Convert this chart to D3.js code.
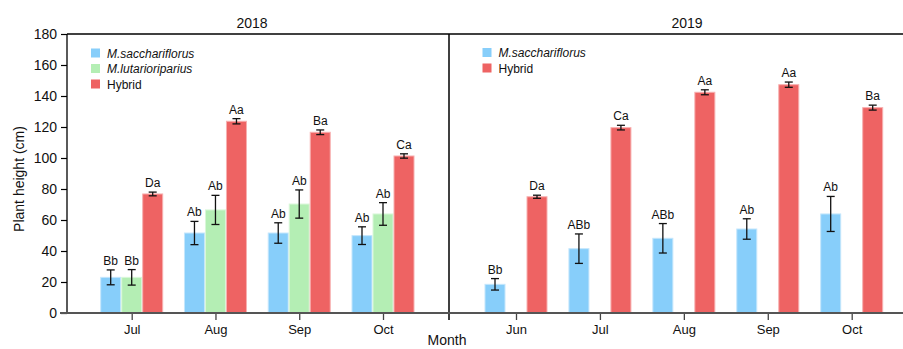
<!DOCTYPE html>
<html lang="en">
<head>
<meta charset="UTF-8">
<title>Plant height</title>
<style>
html, body { margin: 0; padding: 0; background: #fff; }
svg text { font-family: "Liberation Sans", Arial, sans-serif; fill: #111; }
</style>
</head>
<body>
<div id="graph"></div>
<script src="https://cdnjs.cloudflare.com/ajax/libs/d3/7.8.5/d3.min.js"></script>
<script>

// ---- data ----
const seriesNames = ["M.saccharifloros", "M.lutarioriparius", "Hybrid"];
const legend2018 = ["M.sacchariflorus", "M.lutarioriparius", "Hybrid"];
const legend2019 = ["M.sacchariflorus", "Hybrid"];

const months2018 = ["Jul", "Aug", "Sep", "Oct"];
const sacch2018 = [23, 51.6, 51.6, 49.9];
const sacchErr2018 = [4.8, 7.5, 6.6, 5.7];
const sacchLab2018 = ["Bb", "Ab", "Ab", "Ab"];
const lutar2018 = [23, 66.5, 70.3, 63.9];
const lutarErr2018 = [5, 9.4, 9.1, 7.3];
const lutarLab2018 = ["Bb", "Ab", "Ab", "Ab"];
const hybrid2018 = [76.8, 123.7, 116.6, 101.3];
const hybridErr2018 = [1.2, 1.7, 1.5, 1.4];
const hybridLab2018 = ["Da", "Aa", "Ba", "Ca"];

const months2019 = ["Jun", "Jul", "Aug", "Sep", "Oct"];
const sacch2019 = [18.5, 41.5, 48.2, 54.2, 63.9];
const sacchErr2019 = [3.7, 9.5, 9.5, 6.6, 11.3];
const sacchLab2019 = ["Bb", "ABb", "ABb", "Ab", "Ab"];
const hybrid2019 = [75, 119.6, 142.4, 147.3, 132.5];
const hybridErr2019 = [1, 1.5, 1.6, 1.7, 1.6];
const hybridLab2019 = ["Da", "Ca", "Aa", "Aa", "Ba"];

const yTicks = [0, 20, 40, 60, 80, 100, 120, 140, 160, 180];

// ---- layout ----
const width = 903, height = 349;
const colors = { "M.saccharifloros": "#87cefa", "M.lutarioriparius": "#b4eeb4", "Hybrid": "#ee6363" };
const strokes = { "M.saccharifloros": "#c4e6fc", "M.lutarioriparius": "#d9f7d9", "Hybrid": "#f7b0b0" };

const svg = d3.select("#graph").append("svg")
    .attr("width", width).attr("height", height);

const yScale = d3.scaleLinear().domain([0, 180]).range([313, 34]);
const inner = d3.scaleBand().domain(seriesNames).range([-31.5, 31.5]);

const x2018 = d3.scalePoint().domain(months2018).range([131.7, 383]);
const x2019 = d3.scalePoint().domain(months2019).range([516, 851.7]);

function rows(months, vals, errs, labs, name) {
    return months.map((m, i) => ({ month: m, value: vals[i], err: errs[i], label: labs[i], series: name }));
}

const data2018 = [].concat(
    rows(months2018, sacch2018, sacchErr2018, sacchLab2018, "M.saccharifloros"),
    rows(months2018, lutar2018, lutarErr2018, lutarLab2018, "M.lutarioriparius"),
    rows(months2018, hybrid2018, hybridErr2018, hybridLab2018, "Hybrid")
);
const data2019 = [].concat(
    rows(months2019, sacch2019, sacchErr2019, sacchLab2019, "M.saccharifloros"),
    rows(months2019, hybrid2019, hybridErr2019, hybridLab2019, "Hybrid")
);

// y axis
svg.append("g")
    .attr("transform", "translate(67,0)")
    .call(d3.axisLeft(yScale).tickValues(yTicks).tickSize(6).tickPadding(4))
    .call(g => g.select(".domain").attr("d", "M0,34V313").attr("stroke", "#000").attr("stroke-width", 1.3))
    .call(g => g.selectAll(".tick line").attr("stroke", "#000").attr("stroke-width", 1.2))
    .call(g => g.selectAll(".tick text").attr("font-size", 14).attr("font-family", null));

// top border and divider
svg.append("line").attr("x1", 67).attr("x2", width).attr("y1", 34).attr("y2", 34)
    .attr("stroke", "#000").attr("stroke-width", 1.3);
svg.append("line").attr("x1", 449).attr("x2", 449).attr("y1", 34).attr("y2", 320)
    .attr("stroke", "#000").attr("stroke-width", 1.5);

function drawPanel(data, xScale) {
    const g = svg.append("g");
    const cx = d => xScale(d.month) + inner(d.series);

    g.selectAll("rect").data(data).join("rect")
        .attr("x", d => cx(d) + 0.5)
        .attr("width", inner.bandwidth() - 1)
        .attr("y", d => yScale(d.value))
        .attr("height", d => yScale(0) - yScale(d.value))
        .attr("fill", d => colors[d.series])
        .attr("stroke", d => strokes[d.series])
        .attr("stroke-width", 1);

    const mid = d => cx(d) + inner.bandwidth() / 2;
    const eb = g.selectAll(".eb").data(data).join("g").attr("class", "eb")
        .attr("stroke", "#111").attr("stroke-width", 1.3);
    eb.append("line").attr("x1", mid).attr("x2", mid)
        .attr("y1", d => yScale(d.value + d.err)).attr("y2", d => yScale(d.value - d.err));
    eb.append("line").attr("x1", d => mid(d) - 4).attr("x2", d => mid(d) + 4)
        .attr("y1", d => yScale(d.value + d.err)).attr("y2", d => yScale(d.value + d.err));
    eb.append("line").attr("x1", d => mid(d) - 4).attr("x2", d => mid(d) + 4)
        .attr("y1", d => yScale(d.value - d.err)).attr("y2", d => yScale(d.value - d.err));

    g.selectAll(".lab").data(data).join("text").attr("class", "lab")
        .attr("x", mid)
        .attr("y", d => yScale(d.value + d.err) - 5)
        .attr("text-anchor", "middle")
        .attr("font-size", 12)
        .text(d => d.label);

    // x axis
    svg.append("g")
        .attr("transform", "translate(0,313)")
        .call(d3.axisBottom(xScale).tickSize(7).tickPadding(5))
        .call(g => g.select(".domain").remove())
        .call(g => g.selectAll(".tick line").attr("stroke", "#444").attr("stroke-width", 1.3))
        .call(g => g.selectAll(".tick text").attr("font-size", 13).attr("font-family", null));
}

drawPanel(data2018, x2018);
drawPanel(data2019, x2019);

// x axis baseline
svg.append("line").attr("x1", 60).attr("x2", width).attr("y1", 313).attr("y2", 313)
    .attr("stroke", "#555").attr("stroke-width", 2);

// titles
svg.append("text").attr("x", 252).attr("y", 28).attr("text-anchor", "middle")
    .attr("font-size", 14).text("2018");
svg.append("text").attr("x", 687).attr("y", 28).attr("text-anchor", "middle")
    .attr("font-size", 14).text("2019");

svg.append("text").attr("x", 447).attr("y", 345).attr("text-anchor", "middle")
    .attr("font-size", 14).text("Month");
svg.append("text")
    .attr("transform", "translate(24,179) rotate(-90)")
    .attr("text-anchor", "middle")
    .attr("font-size", 14).text("Plant height (cm)");

// legends
function legend(x, y, names) {
    const key = n => n === "Hybrid" ? "Hybrid" : (n.indexOf("lutar") >= 0 ? "M.lutarioriparius" : "M.saccharifloros");
    const lg = svg.append("g").attr("transform", `translate(${x},${y})`);
    const item = lg.selectAll("g").data(names).join("g")
        .attr("transform", (d, i) => `translate(0,${i * 15.5})`);
    item.append("rect").attr("x", 0).attr("y", -4.5).attr("width", 9).attr("height", 9)
        .attr("fill", d => colors[key(d)]);
    item.append("text").attr("x", 16).attr("y", 4.5).attr("font-size", 12)
        .attr("font-style", d => d === "Hybrid" ? "normal" : "italic")
        .text(d => d);
}
legend(91, 53, legend2018);
legend(482.5, 52.5, legend2019);

</script>
</body>
</html>
